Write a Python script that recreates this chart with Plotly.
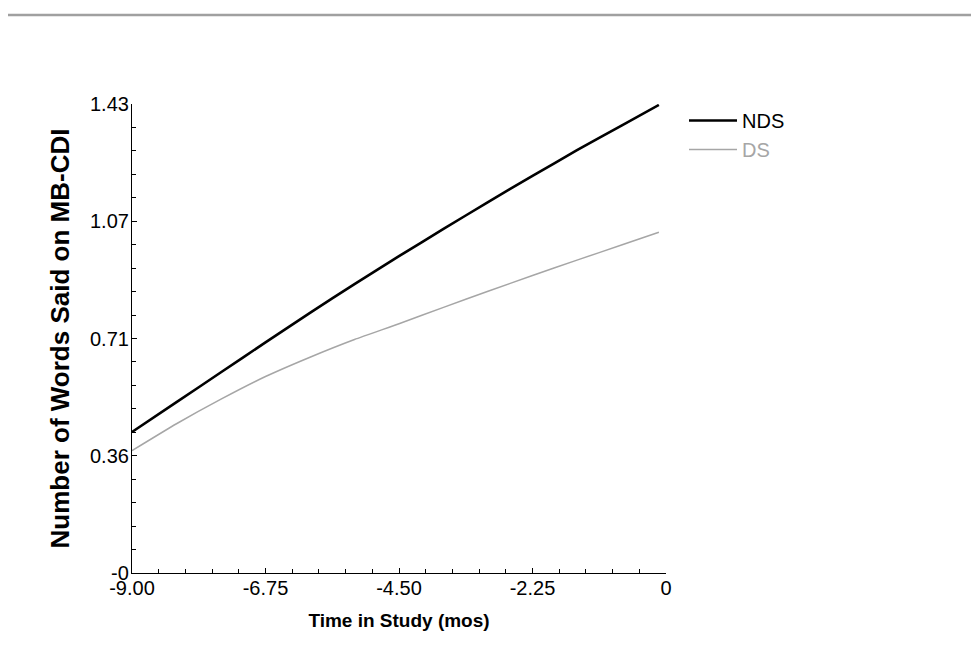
import plotly.graph_objects as go

time_mos = [-9.0, -8.25, -7.5, -6.75, -6.0, -5.25, -4.5, -3.75, -3.0, -2.25, -1.5, -0.75, -0.12]
nds_words = [0.430, 0.521, 0.612, 0.703, 0.793, 0.881, 0.966, 1.049, 1.131, 1.211, 1.289, 1.364, 1.427]
ds_words = [0.373, 0.455, 0.530, 0.599, 0.658, 0.712, 0.760, 0.810, 0.859, 0.907, 0.954, 1.000, 1.039]

x_tickvals = [-9.0, -6.75, -4.5, -2.25, 0.0]
x_ticktext = ["-9.00", "-6.75", "-4.50", "-2.25", "0"]
y_tickvals = [0.0, 0.3575, 0.715, 1.0725, 1.43]
y_ticktext = ["-0", "0.36", "0.71", "1.07", "1.43"]

FONT = "Arial, Liberation Sans, sans-serif"
W, H = 979, 670
OFF_X, OFF_Y = 7, 8  # page offset observed in the rendered screenshot
L, T = 131 - OFF_X, 104 - OFF_Y
pw, ph = 534, 469
R, B = W - L - pw, H - T - ph

fig = go.Figure()
fig.add_trace(go.Scatter(x=time_mos, y=nds_words, mode="lines", name="NDS",
                         line=dict(color="black", width=2.6, shape="spline", smoothing=0.5)))
fig.add_trace(go.Scatter(x=time_mos, y=ds_words, mode="lines",
                         name="<span style='color:#a6a6a6'>DS</span>",
                         line=dict(color="#a6a6a6", width=1.5, shape="spline", smoothing=0.5)))

top_line_y = 15 - OFF_Y
fig.add_shape(type="line", xref="paper", yref="paper",
              x0=(5 - OFF_X - L) / pw, x1=(W - L) / pw,
              y0=(T + ph - top_line_y) / ph, y1=(T + ph - top_line_y) / ph,
              line=dict(color="#a0a0a0", width=2.5))

fig.update_layout(
    width=W, height=H,
    margin=dict(l=L, r=R, t=T, b=B, pad=0),
    paper_bgcolor="white", plot_bgcolor="white",
    font=dict(family=FONT, color="black"),
    showlegend=True,
    legend=dict(x=(683 - OFF_X - L) / pw, xanchor="left",
                y=(T + ph - (101 - OFF_Y)) / ph, yanchor="top",
                font=dict(size=20, family=FONT, color="black"),
                bgcolor="rgba(0,0,0,0)", itemwidth=48, tracegroupgap=0),
    xaxis=dict(range=[-9, 0], tickmode="array", tickvals=x_tickvals, ticktext=x_ticktext,
               showgrid=False, zeroline=False, showline=True, linecolor="black", linewidth=1.2,
               ticks="inside", ticklen=5, tickcolor="black", ticklabelstandoff=-3,
               tickfont=dict(size=20, family=FONT, color="black"),
               minor=dict(ticks="inside", ticklen=4, tickcolor="black", dtick=0.45, tick0=-9, showgrid=False),
               title=dict(text="<b>Time in Study (mos)</b>", font=dict(size=19, family=FONT, color="black"), standoff=15)),
    yaxis=dict(range=[0, 1.43], tickmode="array", tickvals=y_tickvals, ticktext=y_ticktext,
               showgrid=False, zeroline=False, showline=True, linecolor="black", linewidth=1.2,
               ticks="inside", ticklen=5, tickcolor="black", ticklabelstandoff=-2,
               tickfont=dict(size=20, family=FONT, color="black"),
               minor=dict(ticks="inside", ticklen=4, tickcolor="black", dtick=0.0715, tick0=0, showgrid=False),
               title=dict(text="<b>Number of Words Said on MB-CDI</b>", font=dict(size=26, family=FONT, color="black"), standoff=12)),
)

fig.write_html("out.html")
